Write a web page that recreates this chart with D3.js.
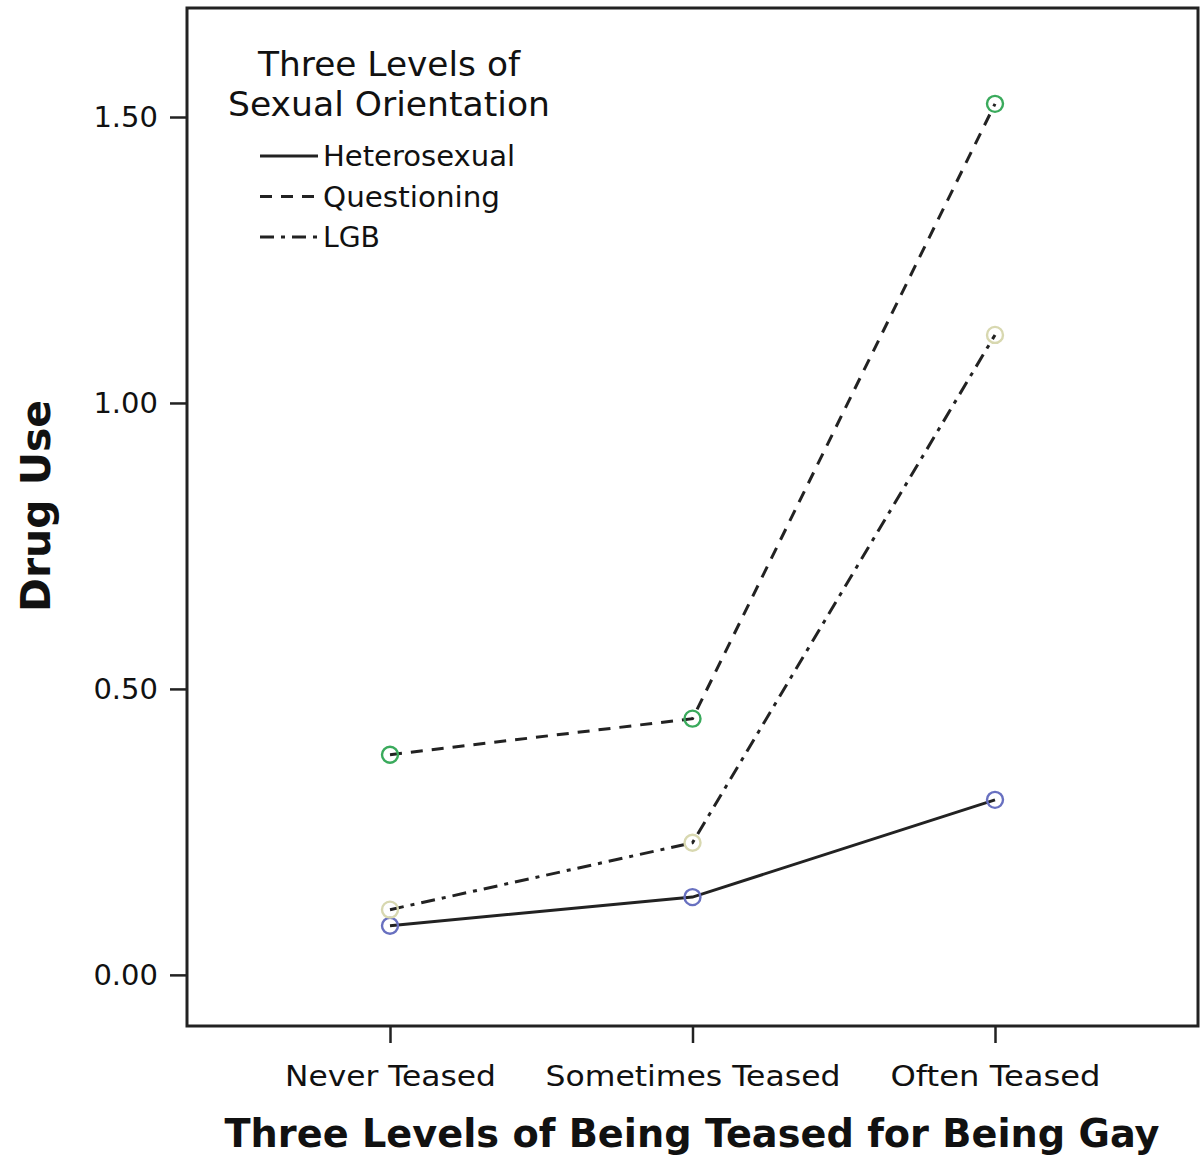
<!DOCTYPE html>
<html><head><meta charset="utf-8">
<script src="https://cdn.jsdelivr.net/npm/d3@7"></script>
<style>body{margin:0;background:#fff}svg{display:block}text{font-family:"DejaVu Sans",sans-serif;fill:#111}</style>
</head><body><svg id="c" width="1200" height="1161"></svg>
<script>
const categories = ["Never Teased", "Sometimes Teased", "Often Teased"];
const yTicks = [0, 0.5, 1.0, 1.5];
const seriesNames = ["Heterosexual", "Questioning", "LGB"];
const heterosexual = [0.086, 0.136, 0.306];
const questioning = [0.385, 0.448, 1.523];
const lgb = [0.114, 0.231, 1.119];

const series = [
  {name: seriesNames[0], values: heterosexual, dash: null, color: "#6870c0"},
  {name: seriesNames[1], values: questioning, dash: "12,9", color: "#3aaa5c"},
  {name: seriesNames[2], values: lgb, dash: "14,7,4,7", color: "#d8d8b0"}
];

const svg = d3.select("#c");
const L = 187, R = 1198, T = 8, B = 1026;
const x = d3.scalePoint().domain(categories).range([390, 995]);
const y = d3.scaleLinear().domain([-0.0894, 1.6906]).range([B, T]);

// frame
svg.append("rect").attr("x", L).attr("y", T).attr("width", R - L).attr("height", B - T)
  .attr("fill", "none").attr("stroke", "#222").attr("stroke-width", 3);

// y axis
const ya = svg.append("g").attr("transform", `translate(${L},0)`)
  .call(d3.axisLeft(y).tickValues(yTicks).tickFormat(d3.format(".2f")).tickSize(17).tickPadding(12));
ya.select(".domain").remove();
ya.selectAll("line").attr("stroke", "#222").attr("stroke-width", 2.5);
ya.selectAll("text").style("font-size", "29px").style("font-family", "'DejaVu Sans',sans-serif").attr("fill", "#111");

// x axis
const xa = svg.append("g").attr("transform", `translate(0,${B})`)
  .call(d3.axisBottom(x).tickSize(17).tickPadding(22));
xa.select(".domain").remove();
xa.selectAll("line").attr("stroke", "#222").attr("stroke-width", 2.5);
xa.selectAll("text").style("font-size", "29px").style("font-family", "'DejaVu Sans',sans-serif").attr("fill", "#111")
  .attr("textLength", (d, i) => [211, 295, 210][i]).attr("lengthAdjust", "spacingAndGlyphs");

// axis titles
svg.append("text").attr("x", 692).attr("y", 1147).attr("text-anchor", "middle")
  .style("font-size", "39px").style("font-weight", "bold")
  .attr("textLength", 935).attr("lengthAdjust", "spacingAndGlyphs")
  .text("Three Levels of Being Teased for Being Gay");
svg.append("text").attr("transform", "translate(50,506) rotate(-90)").attr("text-anchor", "middle")
  .style("font-size", "41px").style("font-weight", "bold")
  .attr("textLength", 212).attr("lengthAdjust", "spacingAndGlyphs")
  .text("Drug Use");

// lines
const line = d3.line().x((d, i) => x(categories[i])).y(d => y(d));
series.forEach(s => {
  svg.append("path").attr("d", line(s.values)).attr("fill", "none")
    .attr("stroke", "#222").attr("stroke-width", 3)
    .attr("stroke-dasharray", s.dash);
});
series.forEach(s => {
  svg.selectAll(null).data(s.values).enter().append("circle")
    .attr("cx", (d, i) => x(categories[i])).attr("cy", d => y(d)).attr("r", 8)
    .attr("fill", "none").attr("stroke", s.color).attr("stroke-width", 2.4);
});

// legend
const lg = svg.append("g");
lg.append("text").attr("x", 389).attr("y", 76).attr("text-anchor", "middle").style("font-size", "34px")
  .attr("textLength", 262).attr("lengthAdjust", "spacingAndGlyphs").text("Three Levels of");
lg.append("text").attr("x", 389).attr("y", 116).attr("text-anchor", "middle").style("font-size", "34px")
  .attr("textLength", 322).attr("lengthAdjust", "spacingAndGlyphs").text("Sexual Orientation");
const lgLen = [192, 177, 57];
series.forEach((s, i) => {
  const yy = 156 + i * 40.5;
  lg.append("line").attr("x1", 260).attr("x2", 318).attr("y1", yy).attr("y2", yy)
    .attr("stroke", "#222").attr("stroke-width", 3).attr("stroke-dasharray", s.dash);
  lg.append("text").attr("x", 323).attr("y", yy + 10).style("font-size", "29px")
    .attr("textLength", lgLen[i]).attr("lengthAdjust", "spacingAndGlyphs").text(s.name);
});
</script></body></html>
